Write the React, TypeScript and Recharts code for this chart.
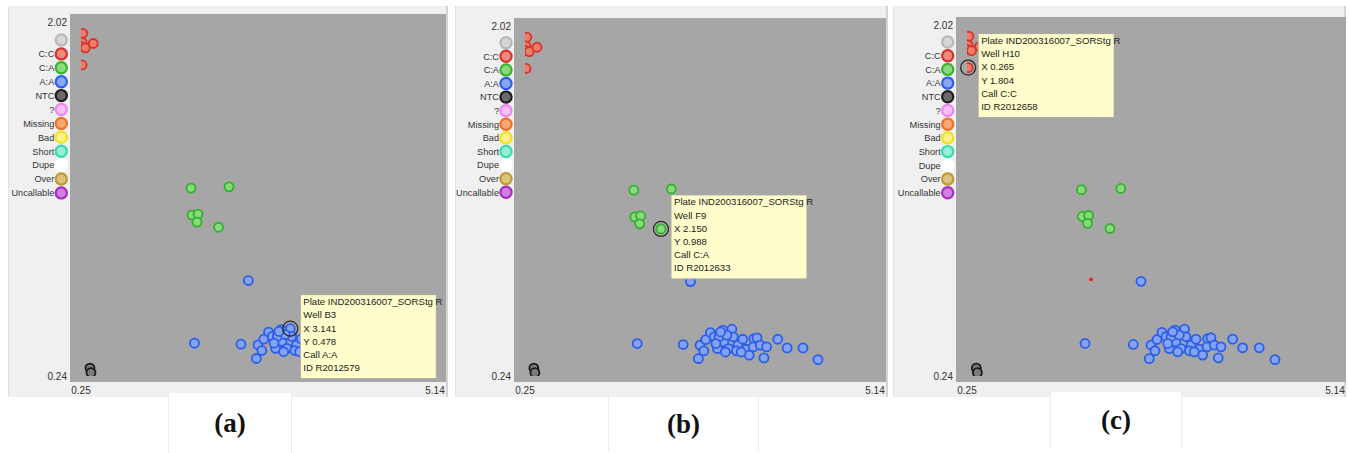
import React from "react";
import { ScatterChart, Scatter, XAxis, YAxis, CartesianGrid, ReferenceDot } from "recharts";

// axis end labels shared by the three panels
const X_TICKS = [0.25, 5.14];
const Y_TICKS = [0.24, 2.02];

// genotype clusters (X = allele 1 signal, Y = allele 2 signal)
const CC_POINTS = [
    { x: 0.275, y: 1.963 }, { x: 0.265, y: 1.918 }, { x: 0.255, y: 1.896 },
    { x: 0.31, y: 1.89 }, { x: 0.418, y: 1.912 }, { x: 0.265, y: 1.804 },
];
const CA_POINTS = [
    { x: 1.77, y: 1.185 }, { x: 2.294, y: 1.191 }, { x: 1.783, y: 1.049 },
    { x: 1.866, y: 1.054 }, { x: 1.852, y: 1.014 }, { x: 2.15, y: 0.988 },
];
const AA_POINTS = [
    { x: 2.562, y: 0.72 }, { x: 1.818, y: 0.405 }, { x: 2.46, y: 0.4 }, { x: 2.672, y: 0.328 },
    { x: 2.695, y: 0.397 }, { x: 2.748, y: 0.368 }, { x: 2.775, y: 0.425 }, { x: 2.841, y: 0.461 },
    { x: 2.894, y: 0.439 }, { x: 3.014, y: 0.473 }, { x: 3.141, y: 0.478 }, { x: 2.938, y: 0.379 },
    { x: 3.027, y: 0.413 }, { x: 3.094, y: 0.379 }, { x: 3.16, y: 0.439 }, { x: 3.227, y: 0.397 },
    { x: 3.293, y: 0.427 }, { x: 3.204, y: 0.368 }, { x: 3.337, y: 0.376 }, { x: 3.382, y: 0.346 },
    { x: 3.448, y: 0.43 }, { x: 3.492, y: 0.434 }, { x: 3.439, y: 0.388 }, { x: 3.536, y: 0.397 },
    { x: 3.625, y: 0.388 }, { x: 3.589, y: 0.332 }, { x: 3.781, y: 0.427 }, { x: 3.913, y: 0.383 },
    { x: 4.134, y: 0.383 }, { x: 4.343, y: 0.323 }, { x: 2.961, y: 0.439 }, { x: 3.071, y: 0.448 },
    { x: 2.917, y: 0.405 }, { x: 3.27, y: 0.362 }, { x: 3.05, y: 0.362 }, { x: 2.983, y: 0.464 },
];
const NTC_POINTS = [{ x: 0.374, y: 0.28 }, { x: 0.388, y: 0.257 }];
const STRAY_POINTS = [{ x: 1.898, y: 0.73 }];

const LEGEND_LABELS = ["", "C:C", "C:A", "A:A", "NTC", "?", "Missing", "Bad", "Short", "Dupe", "Over", "Uncallable"];
const LEGEND_COLORS = ["#b8b8b8", "#d8332a", "#36b52f", "#2a5fe8", "#1e1e1e", "#ee86ee", "#f07224", "#f4e21c", "#35dcb0", "#ffffff", "#c09a30", "#a82cc0"];
const LEGEND_FILLS = ["#d6d6d6", "#ee8a80", "#8cd880", "#8aa6f4", "#6a6a6a", "#f6c0f6", "#f6a874", "#faf290", "#96f0d6", "#ffffff", "#dcc27c", "#d080e0"];

const PANEL_TAGS = ["(a)", "(b)", "(c)"];
const PLATE = "Plate IND200316007_SORStg R";
const TIP_WELLS = ["B3", "F9", "H10"];
const TIP_X = [3.141, 2.15, 0.265];
const TIP_Y = [0.478, 0.988, 1.804];
const TIP_CALLS = ["A:A", "C:A", "C:C"];
const TIP_IDS = ["R2012579", "R2012633", "R2012658"];

const LAYOUT = [
    { left: 8, top: 6, width: 440, height: 391, plot: [69, 14, 445, 382], legX: 60.3, legY: 40, step: 13.9, tag: [168, 393, 122, 60], stray: false },
    { left: 455, top: 6, width: 433, height: 391, plot: [513, 18, 885, 382], legX: 505, legY: 42.7, step: 13.6, tag: [608, 397, 149, 54], stray: false },
    { left: 893, top: 6, width: 453, height: 391, plot: [955, 17, 1345, 382], legX: 946.7, legY: 42, step: 13.7, tag: [1050, 392, 130, 56], stray: true },
];

const FONT = "'Liberation Sans', Arial, sans-serif";

const dot = (fill: string, stroke: string, r: number) => (p: any) => (
    <circle cx={p.cx} cy={p.cy} r={r} fill={fill} stroke={stroke} strokeWidth={1.8} />
);

const TipShape = (lines: string[]) => (p: any) => {
    const bx = p.cx + 10;
    const by = p.cy - 34;
    return (
        <g>
            <circle cx={p.cx} cy={p.cy} r={7.5} fill="none" stroke="#2a2a2a" strokeWidth={1.3} />
            <rect x={bx} y={by} width={136} height={84} fill="#fefdcb" stroke="#a8a8a0" strokeWidth={1} />
            {lines.map((t, i) => (
                <text key={i} x={bx + 3} y={by + 10.5 + i * 13.2} fontSize={9.6} fill="#222" fontFamily={FONT}>
                    {t}
                </text>
            ))}
        </g>
    );
};

const Panel: React.FC<{ idx: number }> = ({ idx }) => {
    const L = LAYOUT[idx];
    const [pl, pt, pr, pb] = L.plot;
    const lines = [PLATE, `Well ${TIP_WELLS[idx]}`, `X ${TIP_X[idx].toFixed(3)}`, `Y ${TIP_Y[idx].toFixed(3)}`, `Call ${TIP_CALLS[idx]}`, `ID ${TIP_IDS[idx]}`];
    return (
        <div style={{ position: "absolute", left: L.left, top: L.top, width: L.width, height: L.height, background: "#f0f0f0", boxSizing: "border-box", borderRight: "2px solid #d4d4d4", borderLeft: "1px solid #e2e2e2" }}>
            <ScatterChart
                width={L.width}
                height={L.height}
                margin={{ top: pt - L.top, left: pl - L.left - 30, right: L.left + L.width - pr, bottom: L.top + L.height - pb - 12 }}
                style={{ fontFamily: FONT }}
            >
                <CartesianGrid fill="#a6a6a6" stroke="none" horizontal={false} vertical={false} />
                <XAxis type="number" dataKey="x" domain={[0.25, 5.14]} allowDataOverflow ticks={X_TICKS} interval={0}
                    padding={{ left: 11, right: 11 }} height={12} axisLine={false} tickLine={false} tickSize={0} tickMargin={5}
                    tick={{ fontSize: 10, fill: "#333" }} tickFormatter={(v: number) => v.toFixed(2)} />
                <YAxis type="number" dataKey="y" domain={[0.24, 2.02]} allowDataOverflow ticks={Y_TICKS} interval={0}
                    padding={{ top: 8, bottom: 6 }} width={30} axisLine={false} tickLine={false} tickSize={0} tickMargin={3}
                    tick={{ fontSize: 10, fill: "#333" }} tickFormatter={(v: number) => v.toFixed(2)} />
                <Scatter data={NTC_POINTS} isAnimationActive={false} shape={dot("#7a7a7a", "#1a1a1a", 4.5)} />
                <Scatter data={CC_POINTS} isAnimationActive={false} shape={dot("#f07c6c", "#d8332a", 4.5)} />
                <Scatter data={CA_POINTS} isAnimationActive={false} shape={dot("#8cd880", "#30b22a", 4.5)} />
                <Scatter data={AA_POINTS} isAnimationActive={false} shape={dot("#86a2f4", "#2a5fe8", 4.5)} />
                {L.stray && <Scatter data={STRAY_POINTS} isAnimationActive={false} shape={dot("#ff1a1a", "#ff1a1a", 1)} />}
                <ReferenceDot x={TIP_X[idx]} y={TIP_Y[idx]} r={7} zIndex={1500} shape={TipShape(lines)} />
            </ScatterChart>
            <svg style={{ position: "absolute", left: 0, top: 0 }} width={pl - L.left} height={210}>
                {LEGEND_LABELS.map((lab, i) => {
                    const cx = L.legX - L.left;
                    const cy = L.legY - L.top + i * L.step;
                    return (
                        <g key={i}>
                            <circle cx={cx} cy={cy} r={5.6} fill={LEGEND_FILLS[i]} stroke={LEGEND_COLORS[i]} strokeWidth={2.2} />
                            {lab && (
                                <text x={cx - 7} y={cy + 3.3} textAnchor="end" fontSize={9.2} fill="#333" fontFamily={FONT}>
                                    {lab}
                                </text>
                            )}
                        </g>
                    );
                })}
            </svg>
        </div>
    );
};

export default function App() {
    return (
        <div style={{ position: "fixed", left: 0, top: 0, width: 1349, height: 453, background: "#fff", overflow: "hidden" }}>
            {LAYOUT.map((_l, i) => <Panel key={i} idx={i} />)}
            {LAYOUT.map((L, i) => (
                <div key={`tag${i}`} style={{ position: "absolute", left: L.tag[0], top: L.tag[1], width: L.tag[2], height: L.tag[3], background: "#fff", borderLeft: "1px solid #ebebeb", borderRight: "1px solid #ebebeb", display: "flex", alignItems: "center", justifyContent: "center", fontFamily: "'Liberation Serif', serif", fontWeight: "bold", fontSize: 27, color: "#111" }}>
                    {PANEL_TAGS[i]}
                </div>
            ))}
        </div>
    );
}
